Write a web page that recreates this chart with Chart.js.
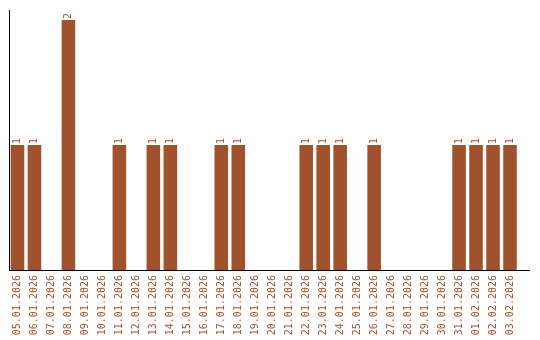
<!DOCTYPE html>
<html>
<head>
<meta charset="utf-8">
<script src="https://cdn.jsdelivr.net/npm/chart.js"></script>
<style>
  html, body { margin: 0; padding: 0; background: #fff; }
  #wrap { width: 540px; height: 340px; }
</style>
</head>
<body>
<div id="wrap"><canvas id="myChart"></canvas></div>
<script>
const days = ['05.01.2026','06.01.2026','07.01.2026','08.01.2026','09.01.2026','10.01.2026',
  '11.01.2026','12.01.2026','13.01.2026','14.01.2026','15.01.2026','16.01.2026',
  '17.01.2026','18.01.2026','19.01.2026','20.01.2026','21.01.2026','22.01.2026',
  '23.01.2026','24.01.2026','25.01.2026','26.01.2026','27.01.2026','28.01.2026',
  '29.01.2026','30.01.2026','31.01.2026','01.02.2026','02.02.2026','03.02.2026'];
const counts = [1,1,0,2,0,0, 1,0,1,1,0,0, 1,1,0,0,0,1, 1,1,0,1,0,0, 0,0,1,1,1,1];

const brown = '#a0522d';
const monoFont = { family: '"DejaVu Sans Mono", monospace', size: 10 };

// value labels above bars, rotated like the axis labels
const barLabels = {
  id: 'barLabels',
  afterDatasetsDraw(chart) {
    const ctx = chart.ctx;
    const meta = chart.getDatasetMeta(0);
    ctx.save();
    ctx.font = monoFont.size + 'px ' + monoFont.family;
    ctx.fillStyle = brown;
    ctx.textAlign = 'left';
    ctx.textBaseline = 'middle';
    meta.data.forEach((bar, i) => {
      if (!counts[i]) return;
      ctx.save();
      ctx.translate(bar.x, bar.y - 1);
      ctx.rotate(-Math.PI / 2);
      ctx.fillText(String(counts[i]), 0, 0);
      ctx.restore();
    });
    ctx.restore();
  }
};

// the baseline runs on a little past the last bar
const axisTail = {
  id: 'axisTail',
  afterDraw(chart) {
    const { ctx, chartArea } = chart;
    ctx.save();
    ctx.strokeStyle = '#000';
    ctx.lineWidth = 1;
    ctx.beginPath();
    ctx.moveTo(chartArea.right - 1, chartArea.bottom + 0.5);
    ctx.lineTo(chart.width - 10, chartArea.bottom + 0.5);
    ctx.stroke();
    ctx.restore();
  }
};

new Chart(document.getElementById('myChart'), {
  type: 'bar',
  data: {
    labels: days,
    datasets: [{
      data: counts,
      backgroundColor: brown,
      barPercentage: 0.8,
      categoryPercentage: 1
    }]
  },
  options: {
    responsive: true,
    maintainAspectRatio: false,
    animation: false,
    layout: { padding: { left: 9, right: 21.5, top: 10, bottom: 0 } },
    plugins: { legend: { display: false }, tooltip: { enabled: false } },
    scales: {
      x: {
        grid: { display: false, drawTicks: false },
        border: { color: '#000', width: 1 },
        ticks: { color: brown, font: monoFont, minRotation: 90, maxRotation: 90, autoSkip: false, padding: 5 },
        afterFit(scale) { scale.height = 70; }
      },
      y: {
        min: 0,
        max: 2.08,
        grid: { display: false, drawTicks: false },
        border: { color: '#000', width: 1 },
        ticks: { display: false }
      }
    }
  },
  plugins: [barLabels, axisTail]
});
</script>
</body>
</html>
